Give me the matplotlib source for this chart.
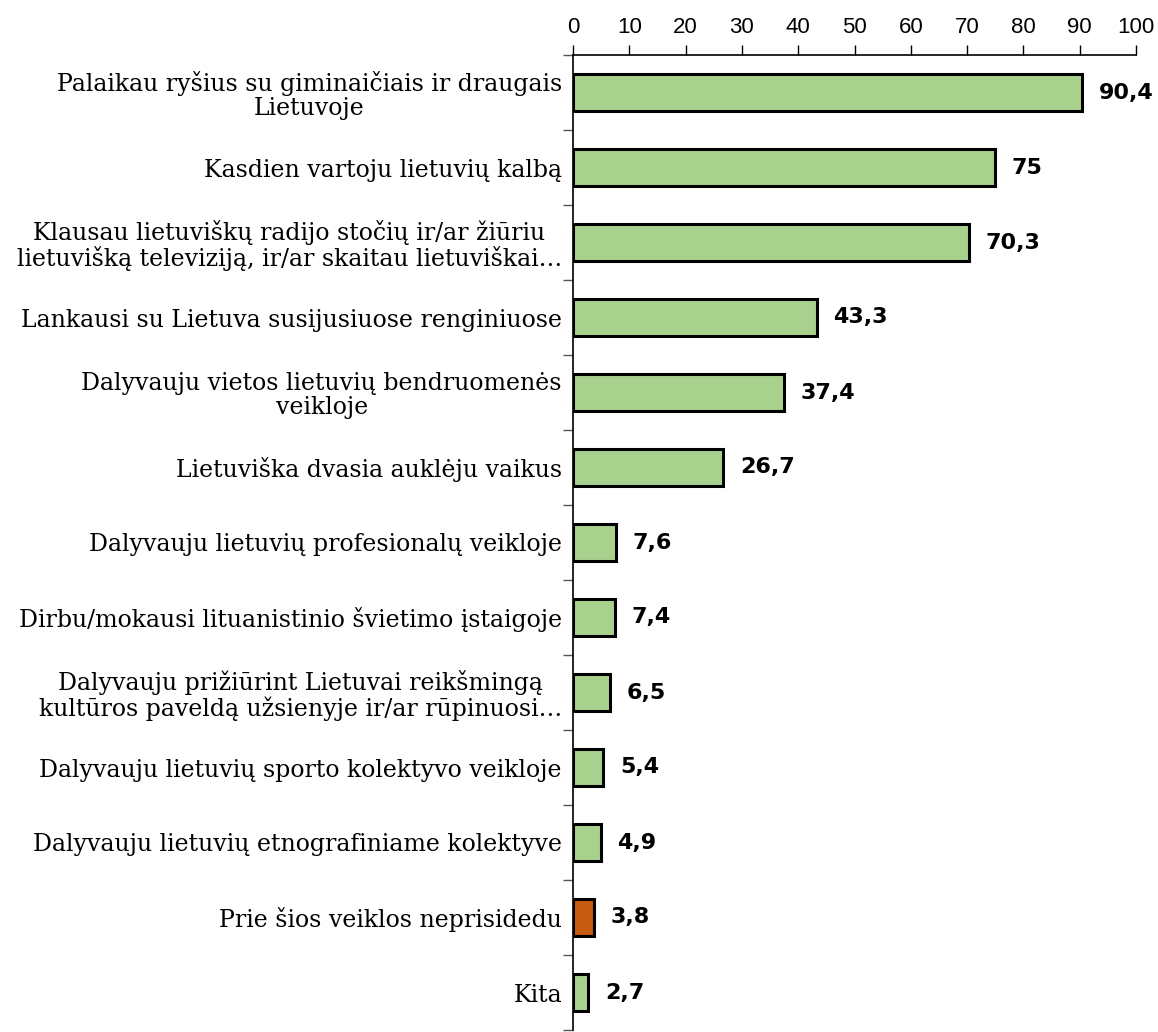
import matplotlib.pyplot as plt
import numpy as np

categories = [
    "Palaikau ryšius su giminaičiais ir draugais\nLietuvoje",
    "Kasdien vartoju lietuvių kalbą",
    "Klausau lietuviškų radijo stočių ir/ar žiūriu\nlietuvišką televiziją, ir/ar skaitau lietuviškai…",
    "Lankausi su Lietuva susijusiuose renginiuose",
    "Dalyvauju vietos lietuvių bendruomenės\nveikloje",
    "Lietuviška dvasia auklėju vaikus",
    "Dalyvauju lietuvių profesionalų veikloje",
    "Dirbu/mokausi lituanistinio švietimo įstaigoje",
    "Dalyvauju prižiūrint Lietuvai reikšmingą\nkultūros paveldą užsienyje ir/ar rūpinuosi…",
    "Dalyvauju lietuvių sporto kolektyvo veikloje",
    "Dalyvauju lietuvių etnografiniame kolektyve",
    "Prie šios veiklos neprisidedu",
    "Kita",
]
values = [90.4, 75, 70.3, 43.3, 37.4, 26.7, 7.6, 7.4, 6.5, 5.4, 4.9, 3.8, 2.7]
value_labels = ["90,4", "75", "70,3", "43,3", "37,4", "26,7", "7,6", "7,4",
                "6,5", "5,4", "4,9", "3,8", "2,7"]
colors = ["#A9D18E"] * 11 + ["#C55A11", "#A9D18E"]

fig = plt.figure(figsize=(11.58, 10.32), dpi=100)
ax = fig.add_axes([573 / 1158, 2 / 1032, (1136 - 573) / 1158, (1030 - 55) / 1032])

y = np.arange(len(values))
ax.barh(y, values, height=0.5, color=colors, edgecolor="black", linewidth=2.2)
ax.set_ylim(len(values) - 0.5, -0.5)
ax.set_xlim(0, 100)

texts = []
for yi, v, lab in zip(y, values, value_labels):
    t = ax.annotate(lab, (v, yi), xytext=(12, 0), textcoords="offset points",
                    va="center", ha="left", fontsize=16, fontweight="bold",
                    family="DejaVu Sans")
    texts.append(t)

ax.xaxis.tick_top()
ax.set_xticks(np.arange(0, 101, 10))
ax.tick_params(axis="x", length=7, width=1, labelsize=16, pad=5)
for t in ax.get_xticklabels():
    t.set_family("Liberation Sans")

ax.set_yticks(y)
ax.set_yticklabels(categories, fontsize=17, family="DejaVu Serif",
                   multialignment="center", linespacing=1.05)
ax.tick_params(axis="y", which="major", length=0, pad=8)
ax.set_yticks(np.arange(-0.5, len(values) - 0.4, 1), minor=True)
ax.tick_params(axis="y", which="minor", length=7, width=1, color="#555555")

for s in ["right", "bottom"]:
    ax.spines[s].set_visible(False)
ax.spines["top"].set_linewidth(1.2)
ax.spines["left"].set_linewidth(1.2)

# keep labels that would run off the right edge inside the figure
fig.canvas.draw()
renderer = fig.canvas.get_renderer()
for t in texts:
    bb = t.get_window_extent(renderer)
    if bb.x1 > 1155:
        t.set_position((t.xyann[0] - (bb.x1 - 1155) * 72 / fig.dpi, 0))

fig.savefig("out.png", dpi=100)
